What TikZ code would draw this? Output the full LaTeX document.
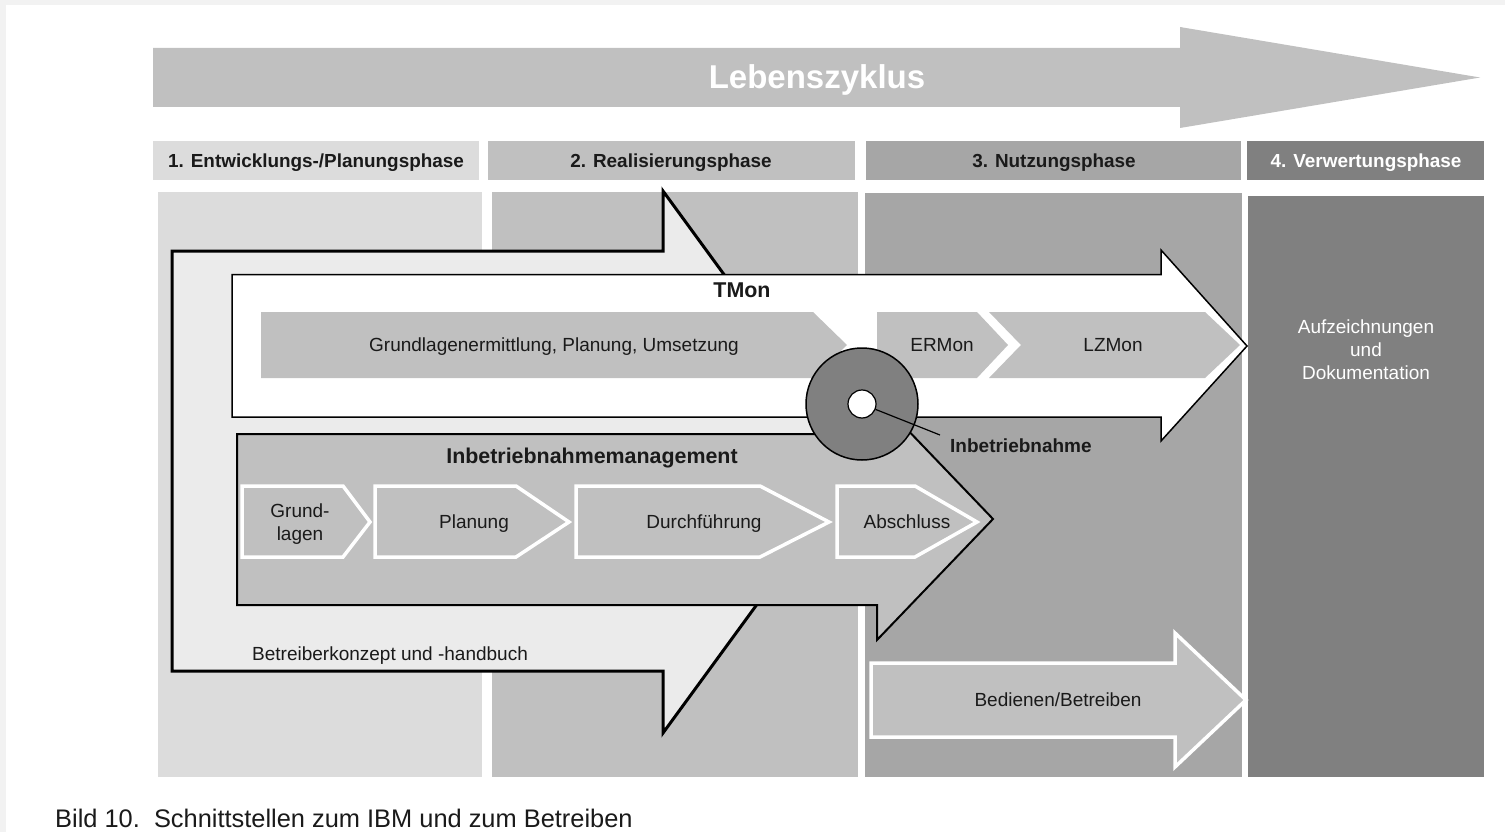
\documentclass[tikz,border=0pt]{standalone}
\usepackage{fontspec}
\setmainfont{Liberation Sans}
\definecolor{gA}{HTML}{DCDCDC}
\definecolor{gAb}{HTML}{EBEBEB}
\definecolor{gB}{HTML}{C0C0C0}
\definecolor{gC}{HTML}{A6A6A6}
\definecolor{gD}{HTML}{808080}
\definecolor{edge}{HTML}{F2F2F2}
\definecolor{ink}{HTML}{1A1A1A}
\begin{document}
\begin{tikzpicture}[x=1pt,y=-1pt,
  txt/.style={font=\fontsize{19}{23}\selectfont, text=ink, align=center, inner sep=0pt},
  btxt/.style={font=\fontsize{21.4}{25}\selectfont\bfseries, text=ink, inner sep=0pt},
  headtxt/.style={font=\fontsize{18.9}{22}\selectfont\bfseries, text=ink, inner sep=0pt},
  blackarrow/.style={draw=black, line join=miter},
  whitechev/.style={fill=gB, draw=white, line width=3.5pt, line join=miter}
]
\useasboundingbox (0,0) rectangle (1505,832);
\fill[white] (0,0) rectangle (1505,832);
\fill[edge] (0,0) rectangle (1505,5);
\fill[edge] (0,0) rectangle (6,832);

% life cycle arrow
\fill[gB] (153,48) -- (1180,48) -- (1180,27) -- (1480,77.5) -- (1180,128) -- (1180,107) -- (153,107) -- cycle;
\node[font=\fontsize{33}{36}\selectfont\bfseries, text=white, inner sep=0pt] (lz) at (817,80) {Lebenszyklus};

% headers
\fill[gA] (153,141) rectangle (479,180);
\fill[gB] (488,141) rectangle (855,180);
\fill[gC] (866,141) rectangle (1241,180);
\fill[gD] (1247,141) rectangle (1484,180);
\node[headtxt] (h1) at (316,163) {1. Entwicklungs-/Planungsphase};
\node[headtxt] (h2) at (671,163) {2. Realisierungsphase};
\node[headtxt] (h3) at (1054,163) {3. Nutzungsphase};
\node[headtxt, text=white] (h4) at (1366,163) {4. Verwertungsphase};

% columns
\fill[gA] (158,192) rectangle (482,777);
\fill[gB] (492,192) rectangle (858,777);
\fill[gC] (865,193) rectangle (1242,777);
\fill[gD] (1248,196) rectangle (1484,777);

% Betreiberkonzept arrow
\path[blackarrow, fill=gAb, line width=3pt] (172,251) -- (663,251) -- (663,191) -- (861,462) -- (663,733) -- (663,671) -- (172,671) -- cycle;
\node[txt, anchor=west] (bk) at (252,656) {Betreiberkonzept und -handbuch};

% TMon arrow
\path[blackarrow, fill=white, line width=1.5pt] (232,274.5) -- (1161,274.5) -- (1161,250) -- (1247,346) -- (1161,441) -- (1161,417) -- (232,417) -- cycle;
\node[btxt] (tmon) at (742,290) {TMon};
\fill[gB] (261,312) -- (813,312) -- (847,345) -- (813,378) -- (261,378) -- cycle;
\node[txt] (gpu) at (554,347) {Grundlagenermittlung, Planung, Umsetzung};
\fill[gB] (877,312) -- (977,312) -- (1008,345) -- (977,378) -- (877,378) -- cycle;
\node[txt] (er) at (942,345) {ERMon};
\fill[gB] (989,312) -- (1205,312) -- (1240,345) -- (1205,378) -- (989,378) -- (1021,345) -- cycle;
\node[txt] (lzm) at (1113,345) {LZMon};

% Inbetriebnahmemanagement arrow
\path[blackarrow, fill=gB, line width=2pt] (237,434) -- (877,434) -- (877,398) -- (993,519) -- (877,640) -- (877,605) -- (237,605) -- cycle;
\node[btxt] (ibm) at (592,458) {Inbetriebnahmemanagement};
\path[whitechev] (242,486) -- (343,486) -- (370,522) -- (343,557) -- (242,557) -- cycle;
\node[txt] (s1) at (300,524) {Grund-\\lagen};
\path[whitechev] (375,486) -- (516,486) -- (569,522) -- (516,557) -- (375,557) -- cycle;
\node[txt] (s2) at (474,524) {Planung};
\path[whitechev] (576,486) -- (760,486) -- (829,522) -- (760,557) -- (576,557) -- cycle;
\node[txt] (s3) at (704,524) {Durchführung};
\path[whitechev] (837,486) -- (915,486) -- (977,522) -- (915,557) -- (837,557) -- cycle;
\node[txt] (s4) at (907,522) {Abschluss};

% Bedienen/Betreiben arrow
\path[whitechev] (871,663) -- (1175,663) -- (1175,633) -- (1246,700) -- (1175,767) -- (1175,737) -- (871,737) -- cycle;
\node[txt] (bb) at (1058,700) {Bedienen/Betreiben};

% Inbetriebnahme circle
\node[circle, draw=black, line width=1.5pt, fill=gD, minimum size=112pt, inner sep=0pt] (outer) at (862,404) {};
\node[circle, draw=black, line width=1.2pt, fill=white, minimum size=28pt, inner sep=0pt] (inner) at (862,404) {};
\coordinate (lead) at (940,435);
\draw[line width=1.2pt] (inner) -- (lead);
\node[font=\fontsize{19}{23}\selectfont\bfseries, text=ink, inner sep=0pt, anchor=west] (ibn) at (950,446) {Inbetriebnahme};

% column 4 text
\node[txt, text=white] (auf) at (1366,350) {Aufzeichnungen\\und\\Dokumentation};

% caption
\node[font=\fontsize{25.4}{28}\selectfont, text=ink, inner sep=0pt, anchor=west] (cap) at (55,818) {Bild 10.\ \ Schnittstellen zum IBM und zum Betreiben};
\end{tikzpicture}
\end{document}
